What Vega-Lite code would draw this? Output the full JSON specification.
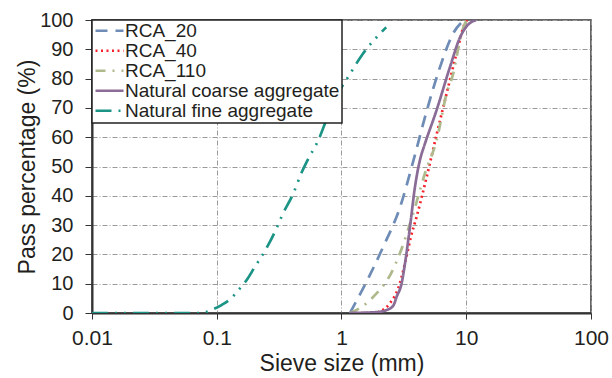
{
  "$schema": "https://vega.github.io/schema/vega-lite/v6.json",
  "width": 499,
  "height": 293,
  "autosize": {"type": "none"},
  "padding": {"left": 92, "top": 20, "right": 21, "bottom": 65},
  "background": "white",
  "config": {
    "font": "Liberation Sans",
    "view": {"stroke": "#333333", "strokeWidth": 1.5},
    "legend": {"strokeWidth": 1.5},
    "axis": {
      "labelFont": "Liberation Sans",
      "titleFont": "Liberation Sans",
      "titleFontSize": 23,
      "titleFontWeight": "normal",
      "labelColor": "#231F20",
      "titleColor": "#231F20",
      "domainColor": "#333333",
      "domainWidth": 2,
      "tickColor": "#333333",
      "tickWidth": 1,
      "gridColor": "#9a9a9a",
      "gridWidth": 1,
      "gridDash": [5, 2, 1, 2]
    }
  },
  "data": {
    "values": [
      {"series": "RCA_20", "size": 1.17, "pass": 0},
      {"series": "RCA_20", "size": 1.69, "pass": 13},
      {"series": "RCA_20", "size": 2.16, "pass": 22.6},
      {"series": "RCA_20", "size": 2.94, "pass": 36},
      {"series": "RCA_20", "size": 3.77, "pass": 52},
      {"series": "RCA_20", "size": 4.82, "pass": 69},
      {"series": "RCA_20", "size": 6.17, "pass": 84},
      {"series": "RCA_20", "size": 7.87, "pass": 95.5},
      {"series": "RCA_20", "size": 9.6, "pass": 100},

      {"series": "RCA_40", "size": 1.17, "pass": 0},
      {"series": "RCA_40", "size": 1.8, "pass": 0},
      {"series": "RCA_40", "size": 2.04, "pass": 0.5},
      {"series": "RCA_40", "size": 2.45, "pass": 3.4},
      {"series": "RCA_40", "size": 2.85, "pass": 8.4},
      {"series": "RCA_40", "size": 3.23, "pass": 17},
      {"series": "RCA_40", "size": 3.6, "pass": 26},
      {"series": "RCA_40", "size": 4.01, "pass": 33},
      {"series": "RCA_40", "size": 4.82, "pass": 46.5},
      {"series": "RCA_40", "size": 5.79, "pass": 61},
      {"series": "RCA_40", "size": 6.97, "pass": 75},
      {"series": "RCA_40", "size": 8.37, "pass": 88.7},
      {"series": "RCA_40", "size": 9.8, "pass": 99},
      {"series": "RCA_40", "size": 10.2, "pass": 100},

      {"series": "RCA_110", "size": 1.17, "pass": 0},
      {"series": "RCA_110", "size": 1.5, "pass": 2.5},
      {"series": "RCA_110", "size": 1.91, "pass": 6.7},
      {"series": "RCA_110", "size": 2.23, "pass": 10.1},
      {"series": "RCA_110", "size": 2.48, "pass": 13.3},
      {"series": "RCA_110", "size": 2.94, "pass": 20.4},
      {"series": "RCA_110", "size": 3.88, "pass": 36},
      {"series": "RCA_110", "size": 4.67, "pass": 47.7},
      {"series": "RCA_110", "size": 5.79, "pass": 59},
      {"series": "RCA_110", "size": 6.97, "pass": 75},
      {"series": "RCA_110", "size": 7.87, "pass": 81.8},
      {"series": "RCA_110", "size": 8.9, "pass": 93},
      {"series": "RCA_110", "size": 9.8, "pass": 99},
      {"series": "RCA_110", "size": 10.2, "pass": 100},

      {"series": "Natural coarse aggregate", "size": 1.17, "pass": 0},
      {"series": "Natural coarse aggregate", "size": 1.9, "pass": 0.3},
      {"series": "Natural coarse aggregate", "size": 2.3, "pass": 1},
      {"series": "Natural coarse aggregate", "size": 2.6, "pass": 2.5},
      {"series": "Natural coarse aggregate", "size": 2.77, "pass": 5.6},
      {"series": "Natural coarse aggregate", "size": 3.03, "pass": 10},
      {"series": "Natural coarse aggregate", "size": 3.23, "pass": 17},
      {"series": "Natural coarse aggregate", "size": 3.54, "pass": 29.4},
      {"series": "Natural coarse aggregate", "size": 3.88, "pass": 43},
      {"series": "Natural coarse aggregate", "size": 4.3, "pass": 53},
      {"series": "Natural coarse aggregate", "size": 4.6, "pass": 57},
      {"series": "Natural coarse aggregate", "size": 5.79, "pass": 69.3},
      {"series": "Natural coarse aggregate", "size": 7.41, "pass": 84},
      {"series": "Natural coarse aggregate", "size": 8.9, "pass": 94},
      {"series": "Natural coarse aggregate", "size": 10, "pass": 97.7},
      {"series": "Natural coarse aggregate", "size": 12, "pass": 100},

      {"series": "Natural fine aggregate", "size": 0.01, "pass": 0},
      {"series": "Natural fine aggregate", "size": 0.075, "pass": 0},
      {"series": "Natural fine aggregate", "size": 0.09, "pass": 1},
      {"series": "Natural fine aggregate", "size": 0.11, "pass": 2.8},
      {"series": "Natural fine aggregate", "size": 0.129, "pass": 4.8},
      {"series": "Natural fine aggregate", "size": 0.152, "pass": 8.2},
      {"series": "Natural fine aggregate", "size": 0.176, "pass": 11.6},
      {"series": "Natural fine aggregate", "size": 0.199, "pass": 15.3},
      {"series": "Natural fine aggregate", "size": 0.248, "pass": 21.8},
      {"series": "Natural fine aggregate", "size": 0.306, "pass": 29.5},
      {"series": "Natural fine aggregate", "size": 0.335, "pass": 33.4},
      {"series": "Natural fine aggregate", "size": 0.406, "pass": 40.3},
      {"series": "Natural fine aggregate", "size": 0.482, "pass": 48.2},
      {"series": "Natural fine aggregate", "size": 0.532, "pass": 52},
      {"series": "Natural fine aggregate", "size": 0.652, "pass": 59},
      {"series": "Natural fine aggregate", "size": 0.775, "pass": 67},
      {"series": "Natural fine aggregate", "size": 1.02, "pass": 77.6},
      {"series": "Natural fine aggregate", "size": 1.156, "pass": 81.2},
      {"series": "Natural fine aggregate", "size": 1.31, "pass": 85},
      {"series": "Natural fine aggregate", "size": 1.48, "pass": 88.4},
      {"series": "Natural fine aggregate", "size": 1.95, "pass": 94.5},
      {"series": "Natural fine aggregate", "size": 2.28, "pass": 97.5}
    ]
  },
  "mark": {"type": "line", "strokeWidth": 2.7, "interpolate": "monotone", "clip": true},
  "encoding": {
    "x": {
      "field": "size",
      "type": "quantitative",
      "scale": {"type": "log", "domain": [0.01, 100]},
      "axis": {
        "title": "Sieve size (mm)",
        "values": [0.01, 0.1, 1, 10, 100],
        "format": "~g",
        "labelFontSize": 21,
        "tickSize": 6,
        "labelPadding": 8,
        "titlePadding": 4,
        "labelFlush": false
      }
    },
    "y": {
      "field": "pass",
      "type": "quantitative",
      "scale": {"domain": [0, 100]},
      "axis": {
        "title": "Pass percentage (%)",
        "values": [0, 10, 20, 30, 40, 50, 60, 70, 80, 90, 100],
        "labelFontSize": 20,
        "tickSize": 7,
        "labelPadding": 12,
        "titlePadding": 0
      }
    },
    "color": {
      "field": "series",
      "type": "nominal",
      "scale": {
        "domain": ["RCA_20", "RCA_40", "RCA_110", "Natural coarse aggregate", "Natural fine aggregate"],
        "range": ["#6E8CB5", "#F5202A", "#AEB98C", "#8A6C96", "#1B9486"]
      },
      "legend": {
        "title": null,
        "orient": "top-left",
        "offset": 0,
        "padding": 2,
        "strokeColor": "#222222",
        "fillColor": "white",
        "symbolType": "stroke",
        "symbolSize": 784,
        "symbolStrokeWidth": 2.5,
        "labelFontSize": 19,
        "labelFont": "Liberation Sans",
        "labelColor": "#231F20",
        "labelOffset": 0,
        "clipHeight": 17.5,
        "rowPadding": 0,
        "labelLimit": 400
      }
    },
    "strokeDash": {
      "field": "series",
      "type": "nominal",
      "scale": {
        "domain": ["RCA_20", "RCA_40", "RCA_110", "Natural coarse aggregate", "Natural fine aggregate"],
        "range": [[12, 8], [2, 3.5], [10, 7, 2, 7], [1, 0], [16, 7, 2, 7, 2, 7]]
      }
    }
  }
}
